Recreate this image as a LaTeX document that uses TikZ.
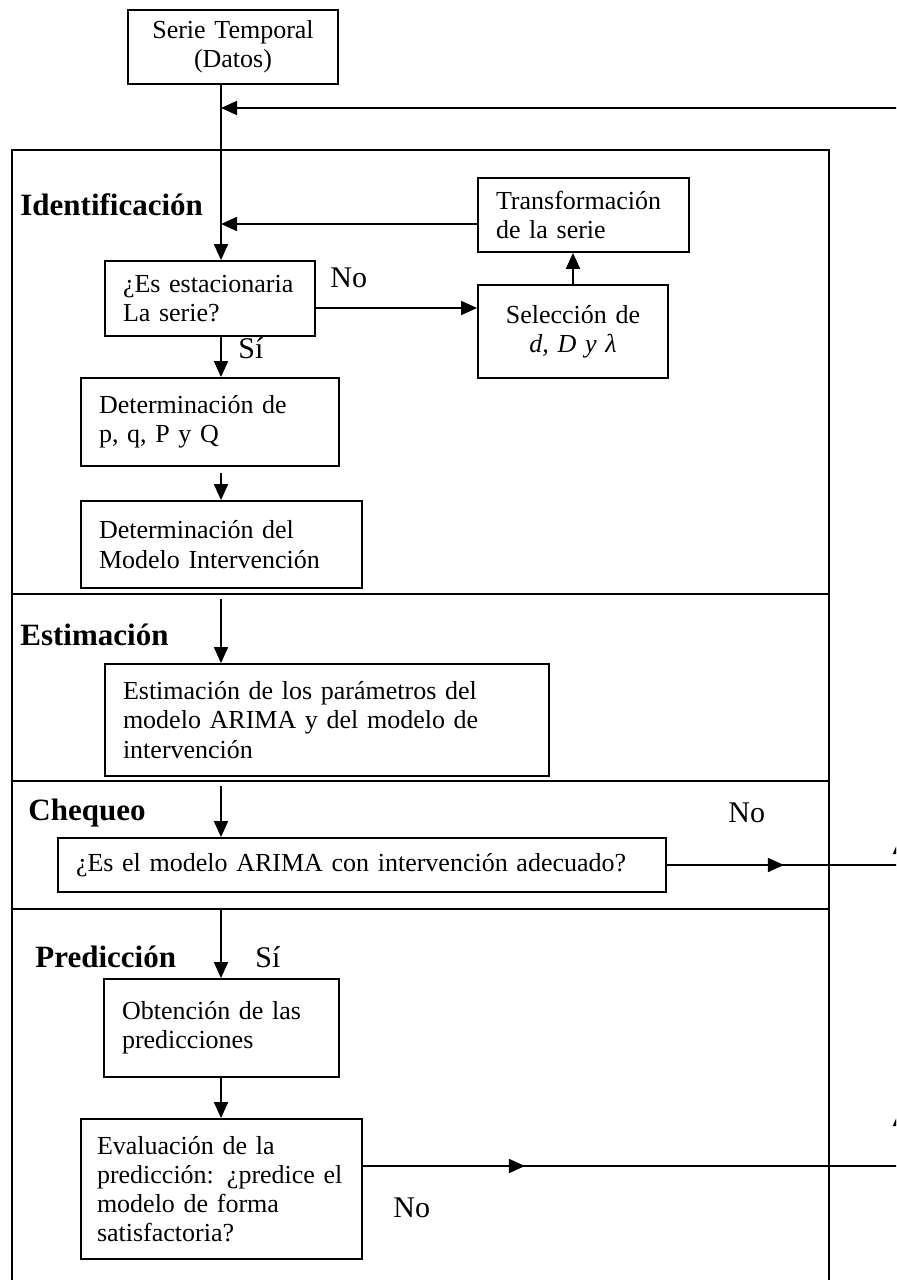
\documentclass[tikz,border=0pt]{standalone}
\usepackage{fontspec}
\setmainfont{Liberation Serif}
\usetikzlibrary{arrows.meta,decorations.markings}
\newcommand{\cuerpo}{\fontsize{13}{14.6}\selectfont}
\newcommand{\titulo}{\fontsize{15.5}{18}\selectfont\bfseries}
\newcommand{\rotulo}{\fontsize{15}{18}\selectfont}

\begin{document}
\begin{tikzpicture}[
    x=0.5pt, y=-0.5pt,
    paso/.style={draw, line width=0.9pt, inner xsep=9pt, inner ysep=0pt, align=left, font=\cuerpo},
    fase/.style={anchor=west, inner sep=0pt, font=\titulo},
    etiqueta/.style={anchor=west, inner sep=0pt, font=\rotulo},
    linea/.style={line width=0.9pt},
    flecha/.style={linea, -{Triangle[length=8pt, width=7pt]}},
    punta/.style={linea, postaction={decorate}, decoration={markings, mark=at position #1 with {\arrow{Triangle[length=8pt, width=7pt]}}}}
]
\useasboundingbox (0,0) rectangle (896,1280);
\clip (0,0) rectangle (896,1280);

% marco de las fases
\draw[linea] (12,1300) -- (12,150) -- (829,150) -- (829,1300);
\foreach \y in {594,781,909} \draw[linea] (12,\y) -- (829,\y);

\node[fase] (ident) at (20,205) {Identificación};
\node[fase] (estimt) at (20,635) {Estimación};
\node[fase] (cheq) at (28,813) {Chequeo};
\node[fase] (pred) at (35,957) {Predicción};

% pasos
\node[paso, align=center, text width=87pt, minimum height=37pt] (serie) at (233,47) {Serie Temporal\\(Datos)};
\node[paso, text width=87pt, minimum height=37.5pt] (estac) at (210,298.5) {¿Es estacionaria\\La serie?};
\node[paso, text width=87.5pt, minimum height=37pt] (transf) at (583.5,215) {Transformación\\de la serie};
\node[paso, align=center, text width=77pt, minimum height=46.5pt] (selec) at (573,331.5) {Selección de\\\textit{d, D y λ}};
\node[paso, text width=111pt, minimum height=44pt] (det1) at (210,422) {Determinación de\\p, q, P y Q};
\node[paso, text width=122.5pt, minimum height=43.5pt] (det2) at (221.5,544.5) {Determinación del\\Modelo Intervención};
\node[paso, text width=204pt, minimum height=56pt] (estim) at (327,720) {Estimación de los parámetros del\\modelo ARIMA y del modelo de\\intervención};
\node[paso, text width=286pt, minimum height=27pt] (adec) at (362,865) {¿Es el modelo ARIMA con intervención adecuado?};
\node[paso, text width=99.5pt, minimum height=49pt] (obten) at (221.5,1028) {Obtención de las\\predicciones};
\node[paso, inner xsep=8pt, text width=124.5pt, minimum height=70pt] (eval) at (221.5,1189) {Evaluación de la\\predicción: ¿predice el\\modelo de forma\\satisfactoria?};

\node[etiqueta] (no1) at (330,278) {No};
\node[etiqueta] (si1) at (238,348) {Sí};
\node[etiqueta] (no2) at (728,813) {No};
\node[etiqueta] (si2) at (255,957) {Sí};
\node[etiqueta] (no3) at (393,1208) {No};

\coordinate (eje) at (221,0);
\coordinate (ret2) at (221,224);
\coordinate (bif) at (221,308);
\coordinate (fbtop) at (900,108);
\coordinate (fbmid) at (900,865);
\coordinate (fbbot) at (900,1166);

% flujo principal
\draw[flecha] (serie.south -| eje) -- (estac.north -| eje);
\draw[flecha] (estac.south -| eje) -- (det1.north -| eje);
\draw[flecha, shorten <=3pt] (det1.south -| eje) -- (det2.north -| eje);
\draw[flecha, shorten <=5pt] (det2.south -| eje) -- (estim.north -| eje);
\draw[flecha, shorten <=4.5pt] (estim.south -| eje) -- (adec.north -| eje);
\draw[flecha, shorten <=8.5pt] (adec.south -| eje) -- (obten.north -| eje);
\draw[flecha] (obten.south -| eje) -- (eval.north -| eje);

% bucle de transformacion
\draw[flecha] (estac.east |- bif) -- (selec.west |- bif);
\draw[flecha] (selec.north) -- (selec.north |- transf.south);
\draw[flecha] (transf.west |- ret2) -- (ret2);

% retorno
\draw[punta=58.5pt] (adec.east) -- (fbmid);
\draw[punta=81pt] (fbbot -| eval.east) -- (fbbot);
\draw[punta=28pt] (fbbot) -- (fbmid);
\draw[punta=13.5pt] (fbmid) -- (fbtop);
\draw[flecha] (fbtop) -- (fbtop -| eje);
\end{tikzpicture}
\end{document}
